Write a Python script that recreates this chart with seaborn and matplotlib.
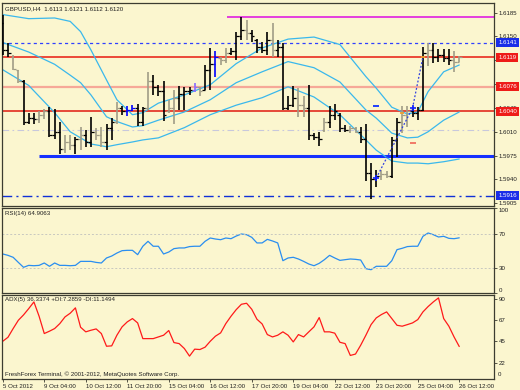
import numpy as np
import pandas as pd
import matplotlib
matplotlib.use("Agg")
import matplotlib.pyplot as plt
import matplotlib.transforms as mtrans
import seaborn as sns

# ---------------- data ----------------
x_labels = ["5 Oct 2012", "9 Oct 04:00", "10 Oct 12:00", "11 Oct 20:00", "15 Oct 04:00",
            "16 Oct 12:00", "17 Oct 20:00", "19 Oct 04:00", "22 Oct 12:00", "23 Oct 20:00",
            "25 Oct 04:00", "26 Oct 12:00"]

highs = [1.6182, 1.6141, 1.6123, 1.6101, 1.6086, 1.6037, 1.6037, 1.6040, 1.6044, 1.6046,
         1.6043, 1.6025, 1.6005, 1.6005, 1.6003, 1.6017, 1.6012, 1.6032, 1.6015, 1.6017,
         1.6022, 1.6030, 1.6053, 1.6048, 1.6048, 1.6049, 1.6051, 1.6047, 1.6097, 1.6093,
         1.6079, 1.6084, 1.6057, 1.6071, 1.6077, 1.6075, 1.6076, 1.6082, 1.6075, 1.6108,
         1.6133, 1.6128, 1.6120, 1.6133, 1.6133, 1.6157, 1.6178, 1.6174, 1.6160, 1.6146,
         1.6142, 1.6157, 1.6170, 1.6145, 1.6140, 1.6062, 1.6077, 1.6074, 1.6062, 1.6079,
         1.6008, 1.6010, 1.6030, 1.6048, 1.6051, 1.6037, 1.6020, 1.6018, 1.6017, 1.6017,
         1.6022, 1.5964, 1.5954, 1.5954, 1.5953, 1.6002, 1.6030, 1.6048, 1.6048, 1.6044,
         1.6047, 1.6134, 1.6141, 1.6141, 1.6131, 1.6131, 1.6131, 1.6128, 1.6121]
lows = [1.6123, 1.6120, 1.6100, 1.6081, 1.6020, 1.6021, 1.6021, 1.6023, 1.6028, 1.6003,
        1.6000, 1.5977, 1.5979, 1.5983, 1.5977, 1.5983, 1.5988, 1.5988, 1.5998, 1.5988,
        1.5983, 1.5998, 1.6021, 1.6035, 1.6033, 1.6041, 1.6018, 1.6018, 1.6042, 1.6064,
        1.6062, 1.6026, 1.6037, 1.6021, 1.6042, 1.6042, 1.6064, 1.6069, 1.6062, 1.6071,
        1.6071, 1.6091, 1.6108, 1.6111, 1.6123, 1.6116, 1.6145, 1.6145, 1.6142, 1.6125,
        1.6125, 1.6123, 1.6120, 1.6120, 1.6042, 1.6042, 1.6047, 1.6032, 1.6032, 1.5998,
        1.5998, 1.5989, 1.6010, 1.6015, 1.6027, 1.6010, 1.6009, 1.6008, 1.6008, 1.5993,
        1.5937, 1.5912, 1.5929, 1.5939, 1.5942, 1.5942, 1.5973, 1.6008, 1.6017, 1.6032,
        1.6027, 1.6040, 1.6106, 1.6111, 1.6113, 1.6113, 1.6108, 1.6098, 1.6112]
opens = [1.6170, 1.6130, 1.6120, 1.6100, 1.6084, 1.6025, 1.6030, 1.6028, 1.6035, 1.6040,
         1.6005, 1.6010, 1.5985, 1.5995, 1.5990, 1.6000, 1.6005, 1.5995, 1.6010, 1.6005,
         1.5995, 1.6015, 1.6025, 1.6045, 1.6040, 1.6042, 1.6045, 1.6025, 1.6045, 1.6085,
         1.6075, 1.6070, 1.6040, 1.6045, 1.6060, 1.6065, 1.6070, 1.6072, 1.6075, 1.6072,
         1.6100, 1.6110, 1.6118, 1.6115, 1.6125, 1.6128, 1.6150, 1.6160, 1.6155, 1.6145,
         1.6135, 1.6130, 1.6145, 1.6130, 1.6135, 1.6045, 1.6050, 1.6060, 1.6050, 1.6045,
         1.6005, 1.6003, 1.6012, 1.6025, 1.6035, 1.6035, 1.6015, 1.6012, 1.6015, 1.6010,
         1.6000, 1.5950, 1.5940, 1.5945, 1.5948, 1.5945, 1.5998, 1.6025, 1.6035, 1.6040,
         1.6038, 1.6042, 1.6125, 1.6130, 1.6120, 1.6122, 1.6118, 1.6115, 1.6113]
closes = [1.6130, 1.6125, 1.6102, 1.6084, 1.6025, 1.6030, 1.6028, 1.6035, 1.6040, 1.6005,
          1.6010, 1.5985, 1.5995, 1.5990, 1.6000, 1.6005, 1.5995, 1.6010, 1.6005, 1.5995,
          1.6015, 1.6025, 1.6045, 1.6040, 1.6042, 1.6045, 1.6025, 1.6045, 1.6085, 1.6075,
          1.6070, 1.6035, 1.6045, 1.6060, 1.6065, 1.6070, 1.6072, 1.6075, 1.6070, 1.6100,
          1.6110, 1.6120, 1.6115, 1.6125, 1.6128, 1.6150, 1.6160, 1.6155, 1.6150, 1.6135,
          1.6130, 1.6145, 1.6130, 1.6135, 1.6045, 1.6050, 1.6060, 1.6050, 1.6045, 1.6005,
          1.6003, 1.6000, 1.6025, 1.6035, 1.6040, 1.6015, 1.6012, 1.6015, 1.6010, 1.6000,
          1.5950, 1.5940, 1.5945, 1.5948, 1.5945, 1.5998, 1.6025, 1.6035, 1.6040, 1.6038,
          1.6042, 1.6125, 1.6130, 1.6120, 1.6122, 1.6118, 1.6115, 1.6113, 1.6120]
bar_kind = list("kkggkkkggkkkggkgkkggkkgkbbkkgkkkggkkkpgkkbggkkkgkk"
                "kkgkkkkggkkkgkkkkggkkkkggkkggkkkgkkkkgg")

band_idx = [0, 5, 10, 13, 15, 17, 20, 22, 25, 27, 30, 35, 40, 45, 50, 55, 60, 65, 70,
            72, 75, 78, 80, 82, 85, 88]
band_upper = [1.6182, 1.6176, 1.6177, 1.6172, 1.6157, 1.6130, 1.6086, 1.6057, 1.6035, 1.6038,
              1.6052, 1.6064, 1.6079, 1.6110, 1.6133, 1.6146, 1.6149, 1.6138, 1.6091,
              1.6074, 1.6046, 1.6036, 1.6039, 1.6069, 1.6098, 1.6108]
band_mid = [1.6141, 1.6127, 1.6109, 1.6093, 1.6082, 1.6064, 1.6032, 1.6025, 1.6017, 1.6019,
            1.6027, 1.6039, 1.6057, 1.6082, 1.6098, 1.6113, 1.6104, 1.6083, 1.6042,
            1.6030, 1.6008, 1.6001, 1.6002, 1.6010, 1.6027, 1.6039]
band_lower = [1.6101, 1.6078, 1.6038, 1.6010, 1.6001, 1.5992, 1.5988, 1.5991, 1.5995, 1.5998,
              1.6001, 1.6016, 1.6035, 1.6049, 1.6060, 1.6076, 1.6061, 1.6035, 1.5998,
              1.5983, 1.5967, 1.5964, 1.5964, 1.5963, 1.5966, 1.5970]

levels = [1.6178, 1.6141, 1.6119, 1.6076, 1.6040, 1.6013, 1.5975, 1.5916]
price_ticks = [1.6185, 1.6150, 1.6115, 1.6080, 1.6045, 1.6010, 1.5975, 1.5940, 1.5905]
price_tick_labels = ["1.6185", "1.6150", "", "1.6080", "1.6045", "1.6010", "1.5975",
                     "1.5940", "1.5905"]
boxed_prices = [1.6141, 1.6119, 1.6076, 1.6040, 1.5916]
boxed_kind = ["b", "r", "r", "r", "b"]

zz_idx = [72, 79, 81]
zz_price = [1.5942, 1.6045, 1.6120]
mark_idx = [72, 79, 72, 79, 77, 81]
mark_price = [1.5942, 1.6045, 1.6048, 1.5994, 1.6038, 1.6120]
mark_kind = ["cross", "cross", "bdash", "rdash", "odot", "odot"]

rsi = [45.9, 44.3, 42.0, 36.0, 30.2, 32.5, 32.1, 32.5, 35.3, 31.4,
       35.3, 32.5, 32.5, 32.1, 32.5, 37.2, 37.2, 37.2, 36.0, 35.3,
       41.2, 43.5, 47.0, 49.8, 50.2, 50.2, 45.1, 55.0, 60.8, 55.0,
       55.0, 45.9, 48.2, 52.2, 53.0, 53.0, 54.6, 55.0, 55.0, 60.8,
       64.7, 63.5, 62.7, 64.7, 63.9, 67.0, 69.4, 68.6, 65.5, 58.9,
       58.9, 63.1, 61.2, 58.9, 38.0, 41.2, 42.0, 40.0, 37.2, 34.1,
       32.1, 34.9, 39.2, 44.3, 41.2, 38.4, 39.2, 40.0, 39.6, 38.8,
       28.6, 27.4, 31.4, 31.4, 31.4, 38.0, 51.0, 52.6, 54.6, 55.0,
       55.0, 66.7, 70.6, 68.6, 65.9, 66.7, 64.3, 63.9, 64.9]
adx = [44.6, 48.8, 58.1, 66.9, 72.6, 79.3, 86.4, 71.2, 52.8, 55.3,
       58.1, 63.4, 70.5, 74.4, 80.1, 59.5, 54.6, 56.3, 57.7, 52.8,
       39.3, 39.7, 51.0, 59.9, 65.2, 68.7, 64.1, 47.4, 47.4, 47.4,
       49.2, 51.0, 56.0, 43.2, 42.1, 36.9, 28.8, 36.2, 35.8, 38.3,
       44.6, 50.0, 53.5, 63.4, 71.2, 78.2, 83.9, 85.0, 78.6, 68.0,
       63.0, 51.7, 49.2, 51.0, 54.6, 51.0, 43.9, 51.7, 49.2, 54.6,
       59.9, 69.8, 54.6, 54.6, 53.2, 43.5, 42.1, 29.5, 31.0, 40.4,
       51.0, 62.3, 69.4, 73.0, 75.8, 68.7, 61.6, 60.6, 62.3, 64.1,
       67.6, 75.8, 81.5, 86.4, 90.7, 68.7, 60.6, 49.2, 39.0]

# ---------------- style ----------------
sns.set_theme(style="white")
plt.rcParams['font.family'] = ['Liberation Sans', 'DejaVu Sans']
BG = "#fbf6cf"
EDGE = "#3c3c30"
FS = 4.4
BAND = "#3ab8ec"
bar_colors = {"k": "#000000", "g": "#a09c86", "b": "#0000ff", "p": "#8a6cff"}

fig = plt.figure(figsize=(5.2, 3.9), dpi=100, facecolor=BG)
W, H = 520.0, 390.0
def box(x0, y0, x1, y1):
    return [x0 / W, 1 - y1 / H, (x1 - x0) / W, (y1 - y0) / H]

ax = fig.add_axes(box(2, 3, 494, 206))
ax_rsi = fig.add_axes(box(2, 208, 494, 293))
ax_adx = fig.add_axes(box(2, 294.5, 494, 378.5))

n = len(highs)
idx = np.arange(n)
XL = (-0.15, 94.7)

for a in (ax, ax_rsi, ax_adx):
    a.set_facecolor(BG)
    a.set_xlim(*XL)
    for s in a.spines.values():
        s.set_color(EDGE)
        s.set_linewidth(0.9)
    a.yaxis.tick_right()
    a.tick_params(axis="y", which="both", right=True, left=False, length=2, width=0.6,
                  color=EDGE, labelsize=FS, pad=1.5, labelcolor="#202020")
    a.grid(False)

# ---------------- main price panel ----------------
ax.set_ylim(1.5901, 1.6199)

# horizontal levels
ax.hlines(levels[0], 43.3, XL[1], color="#e020e0", lw=1.2, zorder=1)
ax.axhline(levels[1], color="#3040ff", lw=0.9, ls=(0, (2.5, 2.5)), zorder=1)
ax.axhline(levels[2], color="#e81a10", lw=1.1, zorder=1)
ax.axhline(levels[3], color="#f6a898", lw=1.6, zorder=1)
ax.axhline(levels[4], color="#e01a10", lw=1.1, zorder=1)
ax.axhline(levels[5], color="#c8c8dc", lw=0.8, ls=(0, (6, 3, 1.5, 3)), zorder=1)
ax.hlines(levels[6], 7.0, XL[1], color="#1530ff", lw=2.2, zorder=1)
ax.axhline(levels[7], color="#1030d8", lw=1.0, ls=(0, (7, 3, 1.5, 3)), zorder=1)

# Bollinger bands
for vals in (band_upper, band_mid, band_lower):
    sns.lineplot(x=band_idx, y=vals, ax=ax, color=BAND, linewidth=0.9, estimator=None,
                 zorder=2)

# OHLC bars
cols = [bar_colors[k] for k in bar_kind]
ax.vlines(idx, lows, highs, colors=cols, lw=1.2, zorder=3)
ax.hlines(opens, idx - 0.5, idx, colors=cols, lw=0.9, zorder=3)
ax.hlines(closes, idx, idx + 0.5, colors=cols, lw=0.9, zorder=3)

# zigzag + markers
sns.lineplot(x=zz_idx, y=zz_price, ax=ax, color="#3040e0", linewidth=0.9,
             linestyle=(0, (1.5, 1.5)), estimator=None, zorder=4)
mstyle = {"cross": dict(marker="+", color="#1020ff", ms=4, mew=1.2),
          "bdash": dict(marker="_", color="#1030ff", ms=4, mew=1.3),
          "rdash": dict(marker="_", color="#f07060", ms=4, mew=1.3),
          "odot": dict(marker="_", color="#f0a030", ms=2.5, mew=1.3)}
for i_, p_, k_ in zip(mark_idx, mark_price, mark_kind):
    ax.plot([i_], [p_], ls="none", zorder=5, **mstyle[k_])

ax.set_xticks([])
ax.set_yticks(price_ticks)
ax.set_yticklabels(price_tick_labels)
ax.set_xlabel("")
ax.set_ylabel("")

trans = mtrans.blended_transform_factory(ax.transAxes, ax.transData)
box_col = {"b": "#1a2ee8", "r": "#ee1c18"}
for p_, k_ in zip(boxed_prices, boxed_kind):
    ax.text(1.0085, p_, f"{p_:.4f}", transform=trans, fontsize=FS, color="white",
            va="center", ha="left", zorder=10, clip_on=False,
            bbox=dict(boxstyle="square,pad=0.35", fc=box_col[k_], ec="none"))

ax.text(0.006, 0.985, "GBPUSD,H4  1.6113 1.6121 1.6112 1.6120", transform=ax.transAxes,
        fontsize=FS, va="top", ha="left", color="#202020")

# ---------------- RSI panel ----------------
sns.lineplot(x=idx, y=rsi, ax=ax_rsi, color="#2a8ef0", linewidth=0.9, estimator=None)
ax_rsi.axhline(70, color="#c8c8c0", lw=0.7, ls=(0, (2, 2)))
ax_rsi.axhline(30, color="#c8c8c0", lw=0.7, ls=(0, (2, 2)))
ax_rsi.set_ylim(0, 100)
ax_rsi.set_xticks([])
ax_rsi.set_yticks([100, 70, 30, 0])
ax_rsi.set_yticklabels(["100", "70", "30", "0"])
lbls = ax_rsi.get_yticklabels()
lbls[0].set_va("top")
lbls[-1].set_va("bottom")
ax_rsi.set_xlabel("")
ax_rsi.set_ylabel("")
ax_rsi.text(0.006, 0.96, "RSI(14) 64.9063", transform=ax_rsi.transAxes, fontsize=FS,
            va="top", ha="left", color="#202020")

# ---------------- ADX panel ----------------
sns.lineplot(x=idx, y=adx, ax=ax_adx, color="#ff1a1a", linewidth=0.9, estimator=None)
ax_adx.set_ylim(5, 94.3)
ax_adx.set_yticks([90, 67, 45, 22])
ax_adx.set_yticklabels(["90", "67", "45", "22"])
ax_adx.text(1.0085, 0.05, "0", transform=ax_adx.transAxes, fontsize=FS, va="center",
            ha="left", color="#202020")
ax_adx.set_xticks(np.arange(0, n, 8))
ax_adx.set_xticklabels(x_labels)
ax_adx.tick_params(axis="x", bottom=True, length=2.5, width=0.6, color=EDGE,
                   labelsize=FS, pad=1.5, labelcolor="#202020")
for t in ax_adx.get_xticklabels():
    t.set_ha("left")
ax_adx.set_xlabel("")
ax_adx.set_ylabel("")
ax_adx.text(0.006, 0.965, "ADX(5) 36.3374 +DI:7.2859 -DI:11.1494", transform=ax_adx.transAxes,
            fontsize=FS, va="top", ha="left", color="#202020")
ax_adx.text(0.006, 0.02, "FreshForex Terminal, \u00a9 2001-2012, MetaQuotes Software Corp.",
            transform=ax_adx.transAxes, fontsize=FS, va="bottom", ha="left", color="#202020")

fig.savefig("out.png", dpi=100, facecolor=BG)
